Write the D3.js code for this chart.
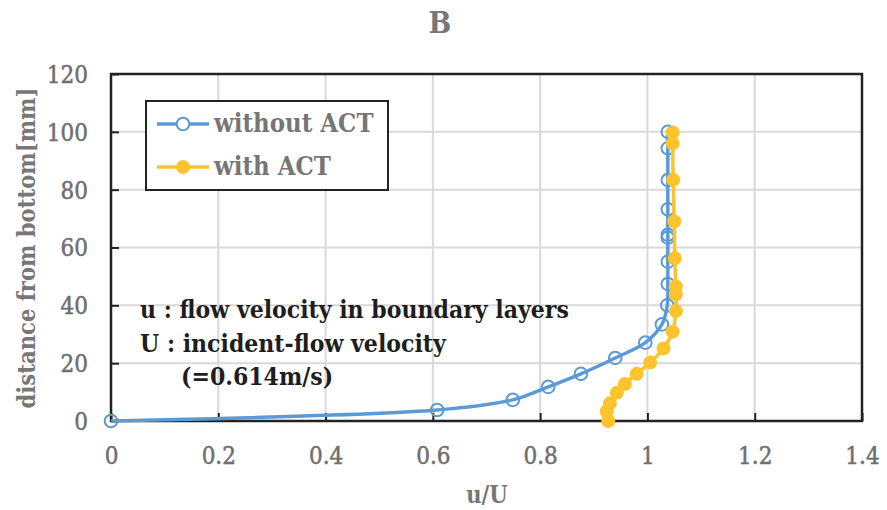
<!DOCTYPE html>
<html>
<head>
<meta charset="utf-8">
<script src="https://cdn.jsdelivr.net/npm/d3@7"></script>
<style>
  body { margin: 0; background: #fff; }
  svg { display: block; }
  text { font-family: "DejaVu Serif Condensed", "DejaVu Serif", serif; font-stretch: condensed; }
  .tick-label { font-size: 24px; fill: #6f6f6f; stroke: #6f6f6f; stroke-width: 0.5px; }
  .axis-title { font-weight: bold; font-size: 23.5px; fill: #777; }
  .legend-text { font-weight: bold; font-size: 25.5px; fill: #767676; }
  .note { font-weight: bold; font-size: 24.5px; fill: #1e1e1e; }
</style>
</head>
<body>
<svg id="chart" width="887" height="510"></svg>
<script>
// u/U and distance from bottom [mm]
const without_u = [0, 0.608, 0.749, 0.815, 0.876, 0.94, 0.996, 1.027, 1.037, 1.038, 1.038, 1.038, 1.038, 1.038, 1.038, 1.038, 1.038];
const without_y = [0, 3.8, 7.3, 11.8, 16.3, 21.8, 27.1, 33.4, 40.0, 47.4, 55.1, 63.4, 64.4, 73.2, 83.3, 94.3, 100];

const with_u = [0.927, 0.924, 0.930, 0.943, 0.958, 0.980, 1.005, 1.030, 1.047, 1.053, 1.053, 1.053, 1.051, 1.050, 1.048, 1.047, 1.047];
const with_y = [0, 3.3, 6.1, 9.8, 12.8, 16.3, 20.2, 25.1, 30.9, 38.0, 43.8, 46.5, 56.3, 69.0, 83.4, 96.0, 99.8];

const x_ticks = [0, 0.2, 0.4, 0.6, 0.8, 1, 1.2, 1.4];
const y_ticks = [0, 20, 40, 60, 80, 100, 120];

const series_names = ["without ACT", "with ACT"];
const note_lines = ["u : flow velocity in boundary layers", "U : incident-flow velocity", "(=0.614m/s)"];

const blue = "#5b9bd5", gold = "#fcc42c";

const svg = d3.select("#chart");
const pl = 111, pr = 862, pt = 74, pb = 421;

const x = d3.scaleLinear().domain([0, 1.4]).range([pl, pr]);
const y = d3.scaleLinear().domain([0, 120]).range([pb, pt]);

// title
svg.append("text").attr("x", 440).attr("y", 33).attr("text-anchor", "middle")
  .attr("class", "axis-title").style("font-size", "30px").text("B");

// grid
svg.append("g").selectAll("line").data(x_ticks.slice(1, -1)).enter().append("line")
  .attr("x1", d => x(d)).attr("x2", d => x(d)).attr("y1", pt).attr("y2", pb)
  .attr("stroke", "#d9d9d9").attr("stroke-width", 2);
svg.append("g").selectAll("line").data(y_ticks.slice(1, -1)).enter().append("line")
  .attr("y1", d => y(d)).attr("y2", d => y(d)).attr("x1", pl).attr("x2", pr)
  .attr("stroke", "#d9d9d9").attr("stroke-width", 2);

// axes with inward ticks
const xAxis = svg.append("g").attr("transform", `translate(0,${pb})`)
  .call(d3.axisBottom(x).tickValues(x_ticks).tickSizeInner(-8).tickSizeOuter(0).tickPadding(26)
    .tickFormat(d => d3.format("")(+d.toFixed(1))));
const yAxis = svg.append("g").attr("transform", `translate(${pl},0)`)
  .call(d3.axisLeft(y).tickValues(y_ticks).tickSizeInner(-8).tickSizeOuter(0).tickPadding(23));
[xAxis, yAxis].forEach(a => {
  a.select(".domain").remove();
  a.attr("font-family", null).attr("font-size", null);
  a.selectAll(".tick line").attr("stroke", "#222").attr("stroke-width", 2);
  a.selectAll(".tick text").attr("class", "tick-label");
});
xAxis.selectAll(".tick text").attr("dy", "0.71em");
yAxis.selectAll(".tick text").attr("dy", "0.35em");

// plot frame
svg.append("rect").attr("x", pl).attr("y", pt).attr("width", pr - pl).attr("height", pb - pt)
  .attr("fill", "none").attr("stroke", "#222").attr("stroke-width", 2.5);

// axis titles
svg.append("text").attr("x", 487).attr("y", 503).attr("text-anchor", "middle").attr("class", "axis-title").text("u/U");
svg.append("text").attr("transform", "translate(35,248) rotate(-90)").attr("text-anchor", "middle")
  .attr("class", "axis-title").text("distance from bottom[mm]");

// series
const line = d3.line().x(d => x(d[0])).y(d => y(d[1])).curve(d3.curveCatmullRom.alpha(0.5));
const without_pts = without_u.map((u, i) => [u, without_y[i]]);
const with_pts = with_u.map((u, i) => [u, with_y[i]]);

svg.append("path").datum(without_pts).attr("d", line).attr("fill", "none")
  .attr("stroke", blue).attr("stroke-width", 3.5);
svg.append("g").selectAll("circle").data(without_pts).enter().append("circle")
  .attr("cx", d => x(d[0])).attr("cy", d => y(d[1])).attr("r", 6.3)
  .attr("fill", "none").attr("stroke", blue).attr("stroke-width", 2);

svg.append("path").datum(with_pts).attr("d", line).attr("fill", "none")
  .attr("stroke", gold).attr("stroke-width", 3.5);
svg.append("g").selectAll("circle").data(with_pts).enter().append("circle")
  .attr("cx", d => x(d[0])).attr("cy", d => y(d[1])).attr("r", 7)
  .attr("fill", gold);

// legend
const lg = svg.append("g");
lg.append("rect").attr("x", 146).attr("y", 101).attr("width", 242).attr("height", 89)
  .attr("fill", "#fff").attr("stroke", "#222").attr("stroke-width", 2);
series_names.forEach((name, i) => {
  const cy = 124 + i * 43, c = i === 0 ? blue : gold;
  lg.append("line").attr("x1", 157).attr("x2", 209).attr("y1", cy).attr("y2", cy)
    .attr("stroke", c).attr("stroke-width", 3.5);
  lg.append("circle").attr("cx", 183).attr("cy", cy).attr("r", i === 0 ? 6.3 : 7)
    .attr("fill", i === 0 ? "#fff" : gold).attr("stroke", i === 0 ? blue : "none").attr("stroke-width", 2);
  lg.append("text").attr("x", 214).attr("y", cy + 8).attr("class", "legend-text").text(name);
});

// note
const note_x = [140, 140, 181], note_yb = [318, 352, 385];
svg.append("g").selectAll("text").data(note_lines).enter().append("text")
  .attr("x", (d, i) => note_x[i]).attr("y", (d, i) => note_yb[i]).attr("class", "note").text(d => d);
</script>
</body>
</html>
